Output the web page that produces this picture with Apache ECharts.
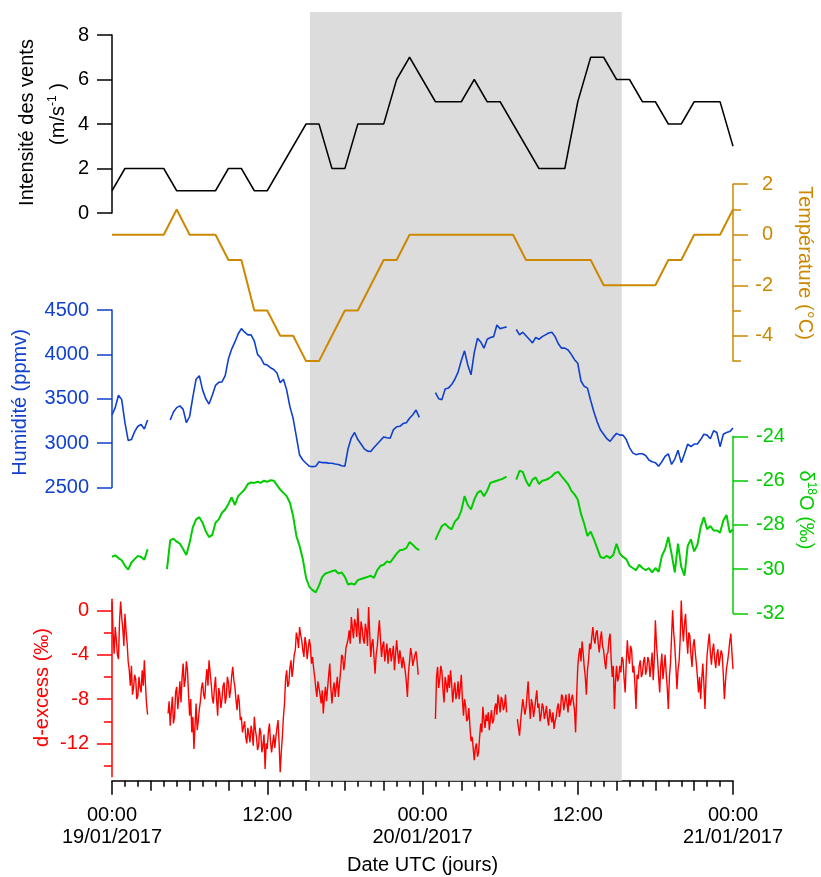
<!DOCTYPE html>
<html><head><meta charset="utf-8">
<script src="https://cdn.jsdelivr.net/npm/echarts@6/dist/echarts.min.js"></script>
<style>html,body{margin:0;padding:0;background:#fff}#c{width:821px;height:877px}</style>
</head><body><div id="c"></div>
<script>
const FONT = '"Liberation Sans", Arial, Helvetica, sans-serif';

// ---------- DATA ----------
const windHours = [0,1,2,3,4,5,6,7,8,9,10,11,12,13,14,15,16,17,18,19,20,21,22,23,24,
  25,26,27,28,29,30,31,32,33,34,35,36,37,38,39,40,41,42,43,44,45,46,47,48];
const windSpeed = [1,2,2,2,2,1,1,1,1,2, 2,1,1,2,3,4,4,2,2,4, 4,4,6,7,6,5,5,5,6,5,
  5,4,3,2,2,2,5,7,7,6, 6,5,5,4,4,5,5,5,3];
const tempHours = windHours;
const temperature = [0,0,0,0,0,1,0,0,0,-1, -1,-3,-3,-4,-4,-5,-5,-4,-3,-3,
  -2,-1,-1,0,0,0,0,0,0,0, 0,0,-1,-1,-1,-1,-1,-1,-2,-2, -2,-2,-2,-1,-1,0,0,0,1];

// humidity (ppmv), one value every 15 min from 00:00 19/01
const humStepH = 0.25;
const humidity = [
  3317,3400,3540,3490, 3230,3030,3040,3130, 3190,3210,3160,3260, null,null,null,null,
  null,null,3260,3350, 3400,3420,3380,3230, 3300,3520,3720,3760, 3600,3500,3440,3540,
  3650,3685,3690,3760, 3950,4060,4140,4230, 4290,4250,4220,4220, 4150,4000,3960,3890,
  3880,3850,3830,3790, 3680,3720,3600,3411, 3280,3072,2866,2810, 2773,2740,2735,2740,
  2790,2780,2780,2775, 2773,2765,2760,2745, 2740,2940,3060,3120, 3040,2990,2935,2910,
  2905,2950,2990,3030, 3070,3060,3054,3150, 3185,3190,3220,3230, 3280,3320,3373,3290,
  null,null,null,null, 3570,3500,3490,3610, 3620,3660,3720,3800, 3930,4040,3880,3770,
  4020,4180,4140,4070, 4170,4190,4200,4330, 4290,4300,4310,null, null,4280,4220,4250,
  4210,4170,4130,4190, 4170,4200,4220,4240, 4250,4200,4120,4070, 4070,4050,4000,3940,
  3900,3700,3640,3620, 3480,3350,3240,3150, 3100,3050,3020,3070, 3110,3090,3090,3040,
  2950,2890,2870,2880, 2880,2860,2810,2790, 2780,2740,2790,2850, 2880,2760,2820,2920,
  2780,2880,2990,2960, 2990,2990,3040,3100, 3090,3050,3140,3120, 2960,3100,3120,3130,
  3170];

// delta18O (permil), one value every 15 min
const d18OStepH = 0.25;
const d18O = [
  -29.44,-29.38,-29.50,-29.60, -29.85,-30.02,-29.70,-29.55, -29.40,-29.45,-29.58,-29.10,
  null,null,null,null, null,-30.0,-28.70,-28.62, -28.76,-28.85,-29.10,-29.36,
  -28.80,-28.10,-27.75,-27.65, -27.90,-28.30,-28.55,-28.45, -27.90,-27.75,-27.45,-27.30,
  -27.05,-26.75,-27.10,-26.70, -26.55,-26.40,-26.15,-26.08, -26.10,-26.05,-26.10,-26.00,
  -26.05,-25.98,-26.00,-26.20, -26.40,-26.55,-26.70,-27.00, -27.60,-28.50,-28.95,-29.55,
  -30.40,-30.80,-30.95,-31.05, -30.75,-30.35,-30.20,-30.15, -30.10,-30.05,-30.20,-30.15,
  -30.35,-30.70,-30.65,-30.70, -30.50,-30.45,-30.40,-30.35, -30.30,-30.40,-30.05,-29.85,
  -29.80,-29.65,-29.70,-29.50, -29.30,-29.15,-29.12,-29.05, -28.78,-28.90,-29.05,-29.14,
  null,null,null,null, -28.68,-28.35,-28.05,-27.95, -28.10,-28.20,-27.85,-27.70,
  -27.35,-26.70,-27.10,-27.30, -26.85,-26.55,-26.45,-26.70, -26.45,-26.10,-26.05,-26.00,
  -25.95,-25.90,-25.82,null, null,-25.95,-25.55,-25.60, -26.00,-26.25,-25.95,-25.85,
  -26.15,-26.00,-25.97,-25.90, -25.80,-25.65,-25.60,-25.80, -25.97,-26.15,-26.45,-26.62,
  -26.85,-27.50,-27.95,-28.50, -28.30,-28.65,-29.05,-29.45, -29.50,-29.40,-29.50,-29.35,
  -28.85,-29.30,-29.45,-29.55, -29.85,-29.95,-30.05,-29.80, -29.95,-30.05,-29.95,-30.15,
  -29.95,-30.12,-29.40,-29.10, -28.55,-29.30,-30.15,-28.85, -29.90,-30.30,-28.95,-28.65,
  -29.20,-28.90,-28.10,-27.65, -28.20,-28.05,-28.25,-28.25, -28.35,-27.80,-27.55,-28.35,
  -28.20];

// d-excess (permil), one value every 5 min (12 per hour, one row per hour)
const dexStepH = 1 / 12;
const dExcess = [
  0.8,-2.0,-3.9,-1.5,-2.6,-4.0,-4.4,-1.0,0.8,-0.6,-1.6,-3.2,
  -0.3,-1.8,-2.9,-4.6,-5.4,-6.8,-5.0,-7.6,-7.0,-5.8,-6.2,-8.0,
  -7.7,-6.0,-6.9,-7.4,-5.4,-6.8,-4.5,-6.6,-8.4,-9.4,null,null,
  null,null,null,null,null,null,null,null,null,null,null,null,
  null,null,null,null,-9.3,-8.2,-10.4,-9.0,-7.8,-10.2,-9.6,-7.4,
  -6.9,-8.9,-7.8,-6.4,-8.3,-6.0,-4.8,-6.9,-6.2,-4.6,-5.4,-7.6,
  -9.5,-8.0,-11.0,-9.6,-12.5,-10.4,-8.4,-10.8,-10.0,-8.9,-8.2,-7.0,
  -6.5,-7.6,-8.0,-6.4,-5.3,-6.8,-4.5,-5.6,-6.6,-7.9,-8.4,-7.0,
  -6.0,-8.0,-9.5,-7.0,-7.5,-8.8,-8.0,-6.8,-6.5,-8.4,-7.8,-6.0,
  -6.5,-7.9,-7.2,-5.9,-5.1,-6.3,-6.9,-8.1,-9.0,-7.6,-8.2,-9.9,
  -9.6,-11.0,-10.5,-10.0,-11.4,-12.0,-10.6,-11.2,-11.9,-10.4,-11.0,-12.2,
  -9.6,-10.8,-11.4,-12.6,-12.2,-10.6,-11.0,-12.8,-12.2,-11.2,-14.3,-12.0,
  -12.5,-11.0,-10.2,-11.8,-12.8,-12.0,-11.2,-12.4,-11.4,-10.6,-9.9,-12.0,
  -14.6,-12.8,-11.4,-9.6,-8.4,-6.2,-5.4,-6.9,-6.6,-5.2,-4.5,-6.0,
  -5.2,-4.0,-3.6,-2.0,-2.5,-3.4,-1.5,-2.2,-2.7,-3.6,-4.2,-2.4,
  -3.0,-4.4,-3.5,-2.6,-3.2,-4.8,-4.2,-5.2,-6.0,-7.0,-7.8,-6.4,
  -6.5,-7.6,-8.4,-7.2,-9.3,-7.8,-6.9,-8.2,-7.0,-5.8,-4.8,-7.0,
  -8.4,-7.2,-6.5,-7.8,-6.9,-6.0,-7.8,-6.6,-5.5,-4.0,-4.2,-5.4,
  -4.6,-3.4,-3.0,-2.6,-1.8,-3.0,-0.6,-1.6,-2.5,-0.8,-1.2,-2.4,
  0.2,-1.8,-3.0,-1.0,-1.6,-2.6,-3.0,-1.2,-1.8,-3.2,0.3,-2.0,
  -4.2,-3.0,-2.6,-4.2,-5.7,-4.0,-3.3,-2.0,-0.9,-2.6,-4.2,-3.2,
  -2.8,-4.6,-3.8,-3.0,-4.8,-3.6,-3.4,-4.6,-4.5,-3.2,-5.4,-4.0,
  -2.7,-3.8,-4.8,-3.6,-4.4,-5.2,-4.2,-4.8,-5.5,-6.4,-7.8,-5.6,
  -4.6,-3.4,-4.0,-5.0,-5.1,-4.0,-3.7,-4.6,-5.8,null,null,null,
  null,null,null,null,null,null,null,null,null,null,null,null,
  -9.8,-6.0,-5.1,-7.0,-6.2,-5.0,-5.5,-7.2,-8.3,-6.0,-6.6,-7.4,
  -5.8,-7.0,-5.4,-6.6,-8.3,-7.2,-6.5,-8.0,-7.5,-6.4,-8.0,-7.0,
  -5.8,-8.0,-9.5,-8.0,-8.6,-10.0,-9.8,-8.8,-10.5,-11.8,-11.4,-12.4,
  -13.5,-12.4,-12.0,-13.2,-12.8,-11.4,-10.2,-11.0,-8.7,-9.8,-10.6,-9.4,
  -10.0,-9.2,-10.8,-9.8,-9.0,-10.2,-9.9,-8.8,-8.4,-9.4,-7.6,-8.4,
  -9.2,-7.8,-8.1,-9.0,-8.6,-7.6,-9.2,null,null,null,null,null,
  null,null,null,null,-9.8,-10.6,-11.3,-10.0,-9.0,-8.0,-8.1,-9.4,
  -8.8,-7.6,-6.4,-8.4,-9.8,-8.0,-8.5,-9.6,-8.9,-8.0,-7.2,-8.8,
  -8.4,-10.0,-9.5,-8.4,-8.7,-9.8,-9.3,-8.6,-9.8,-10.4,-8.9,-9.6,
  -10.1,-9.2,-10.7,-10.0,-9.6,-8.8,-8.4,-9.6,-8.9,-7.6,-7.8,-9.0,
  -9.0,-7.6,-8.4,-9.2,-7.5,-8.6,-8.6,-7.6,-7.7,-9.0,-11.0,-7.6,
  -5.1,-4.0,-3.4,-4.6,-2.8,-3.8,-5.1,-6.0,-7.6,-5.4,-4.5,-3.0,
  -3.5,-2.4,-1.5,-2.6,-3.0,-2.0,-1.8,-3.0,-3.8,-2.6,-1.9,-3.2,
  -3.6,-4.6,-5.3,-4.0,-3.8,-2.6,-2.1,-4.4,-6.0,-5.0,-8.9,-6.4,
  -5.0,-6.4,-6.0,-5.0,-5.6,-4.2,-4.5,-6.2,-7.4,-4.6,-2.7,-4.2,
  -4.8,-3.2,-3.6,-5.6,-5.0,-6.6,-8.9,-5.8,-6.2,-5.0,-4.5,-6.0,
  -5.7,-4.6,-4.2,-5.8,-5.3,-4.2,-4.6,-6.0,-5.0,-3.8,-6.3,-4.4,
  -0.9,-3.0,-4.4,-6.0,-7.4,-5.0,-3.9,-6.2,-5.2,-4.0,-5.6,-7.0,
  -8.9,-6.0,-4.8,-2.4,0.0,-2.0,-3.2,-5.0,-7.1,-5.4,-4.6,-2.6,
  0.9,-1.4,-2.8,-1.2,-0.3,-2.4,-3.9,-2.0,-2.3,-4.0,-5.1,-3.2,
  -2.6,-3.8,-4.8,-6.0,-7.4,-6.0,-8.0,-6.2,-4.8,-6.6,-8.9,-6.0,
  -4.0,-3.0,-2.1,-3.8,-4.9,-3.6,-3.0,-4.4,-5.2,-4.0,-3.5,-5.0,
  -5.0,-3.6,-4.0,-5.8,-8.0,-6.4,-5.2,-4.6,-3.8,-2.8,-2.1,-3.8,
  -5.3];

const xTickValues = [0, 12, 24, 36, 48];
const xTickLabels = ['00:00\n19/01/2017', '12:00', '00:00\n20/01/2017', '12:00', '00:00\n21/01/2017'];
const cycleStartH = 15.3, cycleEndH = 39.4;

// ---------- STYLE ----------
const C_WIND = '#000000', C_TEMP = '#CC8800', C_HUM = '#1040CC', C_D18O = '#00CC00', C_DEX = '#FF0000';
const L = 112, W = 621;

function pairsFromHours(hours, vals) { return vals.map((v, i) => [hours[i], v]); }
function pairsFromStep(step, vals) { return vals.map((v, i) => [i * step, v === null ? '-' : v]); }

function grid(top, height) { return { left: L, width: W, top: top, height: height, containLabel: false, outerBoundsMode: 'none' }; }
function hiddenX(gi) { return { type: 'value', gridIndex: gi, min: 0, max: 48, show: false }; }
function yAx(gi, o) {
  const c = o.color;
  return {
    type: 'value', gridIndex: gi, position: o.pos, min: o.min, max: o.max, interval: o.interval,
    splitLine: { show: false },
    axisLine: { show: !!o.line, onZero: false, lineStyle: { color: c, width: 1.5 } },
    axisTick: { show: !!o.tick, inside: false, length: o.tick || 0, lineStyle: { color: c, width: 1.5 } },
    axisLabel: o.label ? { show: true, color: c, fontSize: 20, fontFamily: FONT, margin: o.margin, align: o.align,
      formatter: v => String(v) } : { show: false }
  };
}
const txt = (x, y, rot, text, color, extra) => Object.assign({
  type: 'text', x: x, y: y, rotation: rot, silent: true,
  style: Object.assign({ text: text, fill: color, fontSize: 20, fontFamily: FONT, align: 'center', verticalAlign: 'middle' }, extra || {})
});

const chart = echarts.init(document.getElementById('c'), null, { renderer: 'canvas' });
chart.setOption({
  animation: false,
  backgroundColor: '#fff',
  textStyle: { fontFamily: FONT },
  grid: [
    grid(12, 768.7),      // 0 background + x axis
    grid(12, 768.7),      // 1 x axis 3h ticks
    grid(35, 178),        // 2 wind
    grid(184.2, 176.9),   // 3 temperature
    grid(184.2, 151.6),   // 4 temperature labels
    grid(310, 177.5),     // 5 humidity
    grid(436.5, 176.8),   // 6 d18O
    grid(599.3, 177.4),   // 7 d-excess line
    grid(610.4, 133.1),   // 8 d-excess labels
    grid(632.6, 133.1)    // 9 d-excess minor ticks
  ],
  xAxis: [
    { type: 'value', gridIndex: 0, min: 0, max: 48, interval: 12, position: 'bottom',
      splitLine: { show: false },
      axisLine: { show: true, onZero: false, lineStyle: { color: '#000', width: 1.5 } },
      axisTick: { show: true, length: 14, lineStyle: { color: '#000', width: 1.5 } },
      minorTick: { show: true, splitNumber: 12, length: 6, lineStyle: { color: '#000', width: 1.5 } },
      axisLabel: { show: true, color: '#000', fontSize: 20, fontFamily: FONT, margin: 24, lineHeight: 22,
        showMinLabel: true, showMaxLabel: true,
        formatter: v => { const i = xTickValues.indexOf(v); return i >= 0 ? xTickLabels[i] : ''; } } },
    { type: 'value', gridIndex: 1, min: 0, max: 48, interval: 3, position: 'bottom',
      splitLine: { show: false }, axisLine: { show: false, onZero: false },
      axisTick: { show: true, length: 10, lineStyle: { color: '#000', width: 1.5 } },
      axisLabel: { show: false } },
    hiddenX(2), hiddenX(3), hiddenX(4), hiddenX(5), hiddenX(6), hiddenX(7), hiddenX(8), hiddenX(9)
  ],
  yAxis: [
    { type: 'value', gridIndex: 0, min: 0, max: 1, show: false },
    { type: 'value', gridIndex: 1, min: 0, max: 1, show: false },
    yAx(2, { pos: 'left', min: 0, max: 8, interval: 2, color: C_WIND, line: true, tick: 15, label: true, margin: 23 }),
    yAx(3, { pos: 'right', min: -5, max: 2, interval: 1, color: C_TEMP, line: true, tick: 8 }),
    yAx(4, { pos: 'right', min: -4, max: 2, interval: 2, color: C_TEMP, tick: 15, label: true, margin: 40, align: 'right' }),
    yAx(5, { pos: 'left', min: 2500, max: 4500, interval: 500, color: C_HUM, line: true, tick: 15, label: true, margin: 23 }),
    yAx(6, { pos: 'right', min: -32, max: -24, interval: 2, color: C_D18O, line: true, tick: 15, label: true, margin: 23, align: 'left' }),
    yAx(7, { pos: 'left', min: -15, max: 1, color: C_DEX, line: true }),
    yAx(8, { pos: 'left', min: -12, max: 0, interval: 4, color: C_DEX, tick: 15, label: true, margin: 23 }),
    yAx(9, { pos: 'left', min: -12, max: 0, interval: 4, color: C_DEX, tick: 8 })
  ],
  series: [
    { type: 'line', xAxisIndex: 0, yAxisIndex: 0, z: 1, data: [[cycleStartH, 0]], showSymbol: false, symbol: 'none',
      lineStyle: { width: 0, opacity: 0 },
      markArea: { silent: true, itemStyle: { color: '#DCDCDC' }, data: [[{ xAxis: cycleStartH }, { xAxis: cycleEndH }]] } },
    { type: 'line', xAxisIndex: 2, yAxisIndex: 2, z: 3, data: pairsFromHours(windHours, windSpeed), symbol: 'none',
      lineStyle: { color: C_WIND, width: 1.5 } },
    { type: 'line', xAxisIndex: 3, yAxisIndex: 3, z: 3, data: pairsFromHours(tempHours, temperature), symbol: 'none',
      lineStyle: { color: C_TEMP, width: 2 } },
    { type: 'line', xAxisIndex: 5, yAxisIndex: 5, z: 3, data: pairsFromStep(humStepH, humidity), symbol: 'none',
      connectNulls: false, lineStyle: { color: C_HUM, width: 1.6 } },
    { type: 'line', xAxisIndex: 6, yAxisIndex: 6, z: 3, data: pairsFromStep(d18OStepH, d18O), symbol: 'none',
      connectNulls: false, lineStyle: { color: C_D18O, width: 2 } },
    { type: 'line', xAxisIndex: 7, yAxisIndex: 7, z: 3, data: pairsFromStep(dexStepH, dExcess), symbol: 'none',
      connectNulls: false, lineStyle: { color: C_DEX, width: 1.4 } }
  ],
  graphic: [
    txt(467.5, 29, 0, 'Cycle Diurne', '#000'),
    txt(27.8, 122.5, Math.PI / 2, 'Intensité des vents', '#000'),
    txt(58.7, 114, Math.PI / 2, '(m/s{sup|-1} )', '#000', { lineHeight: 24, rich: { sup: { fontSize: 12, fontFamily: FONT, verticalAlign: 'top', lineHeight: 12, fill: '#000' } } }),
    txt(20.4, 402.5, Math.PI / 2, 'Humidité (ppmv)', C_HUM),
    txt(42, 687.5, Math.PI / 2, 'd-excess (‰)', C_DEX),
    txt(804.6, 263, -Math.PI / 2, 'Température (°C)', C_TEMP),
    txt(805.7, 510, -Math.PI / 2, 'δ{sup|18}O (‰)', C_D18O, { lineHeight: 24, rich: { sup: { fontSize: 12, fontFamily: FONT, verticalAlign: 'top', lineHeight: 12, fill: C_D18O } } }),
    txt(422.5, 865, 0, 'Date UTC (jours)', '#000')
  ]
});
</script>
</body></html>
